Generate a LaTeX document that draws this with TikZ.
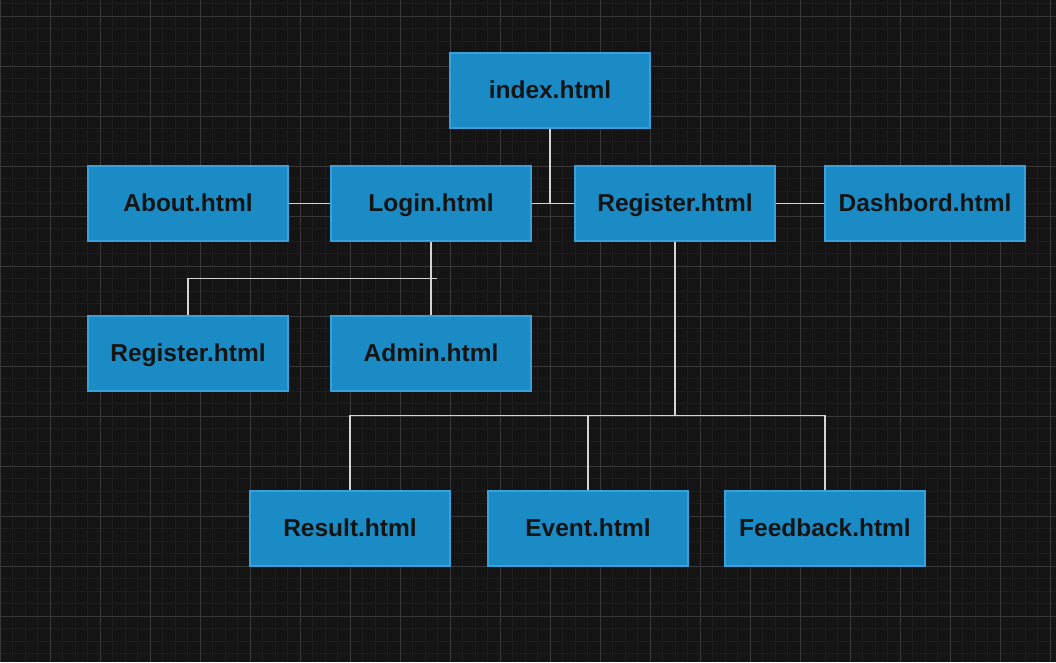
\documentclass[tikz,border=0pt]{standalone}
\usepackage{fontspec}
\setmainfont{Liberation Sans}
\definecolor{bg}{HTML}{141414}
\definecolor{gridminor}{HTML}{1D1D1D}
\definecolor{gridmajor}{HTML}{383838}
\definecolor{boxfill}{HTML}{1A8BC4}
\definecolor{boxedge}{HTML}{3AA0DC}
\definecolor{wire}{HTML}{D4D4D4}
\definecolor{txt}{HTML}{141414}
\tikzset{
  page/.style={x=1pt,y=-1pt},
  pagebox/.style={draw=boxedge, fill=boxfill, line width=1.2pt, minimum width=200pt, minimum height=75pt, inner sep=0pt,
    text height=17.5pt, text depth=1pt,
    font=\fontsize{24.5}{27}\selectfont\bfseries, text=txt},
  wireline/.style={draw=wire, line width=1.3pt},
}
\begin{document}
\begin{tikzpicture}[page]
\useasboundingbox (0,0) rectangle (1056,662);
\fill[bg] (0,0) rectangle (1056,662);
% minor grid
\foreach \i in {0,...,84} {\draw[gridminor, line width=1pt] (12.5*\i,0) -- (12.5*\i,662);}
\foreach \j in {0,...,53} {\draw[gridminor, line width=1pt] (0,3.5+12.5*\j) -- (1056,3.5+12.5*\j);}
% major grid
\foreach \i in {0,...,21} {\draw[gridmajor, line width=1pt] (50*\i,0) -- (50*\i,662);}
\foreach \j in {0,...,12} {\draw[gridmajor, line width=1pt] (0,16+50*\j) -- (1056,16+50*\j);}

% nodes
\node[pagebox] (index) at (550,90.5) {index.html};
\node[pagebox] (about) at (188,203.5) {About.html};
\node[pagebox] (login) at (431,203.5) {Login.html};
\node[pagebox] (reg) at (675,203.5) {Register.html};
\node[pagebox] (dash) at (925,203.5) {Dashbord.html};
\node[pagebox] (reg2) at (188,353.5) {Register.html};
\node[pagebox] (admin) at (431,353.5) {Admin.html};
\node[pagebox] (result) at (350,528.5) {Result.html};
\node[pagebox] (event) at (588,528.5) {Event.html};
\node[pagebox] (feed) at (825,528.5) {Feedback.html};

% junction coordinates
\coordinate (j1) at (550,203.5);
\coordinate (j2l) at (188,278.5);
\coordinate (j2r) at (437,278.5);
\coordinate (j3) at (675,415.5);
\coordinate (j3l) at (350,415.5);
\coordinate (j3m) at (588,415.5);
\coordinate (j3r) at (825,415.5);

% connectors
\draw[wireline] (index.south) -- (j1);
\draw[wireline] (login.east) -- (reg.west);
\draw[wireline] (about.east) -- (login.west);
\draw[wireline] (reg.east) -- (dash.west);
\draw[wireline] (login.south) -- (admin.north);
\draw[wireline] (reg2.north) -- (j2l) -- (j2r);
\draw[wireline] (reg.south) -- (j3);
\draw[wireline] (result.north) -- (j3l) -- (j3r) -- (feed.north);
\draw[wireline] (j3m) -- (event.north);
\end{tikzpicture}
\end{document}
